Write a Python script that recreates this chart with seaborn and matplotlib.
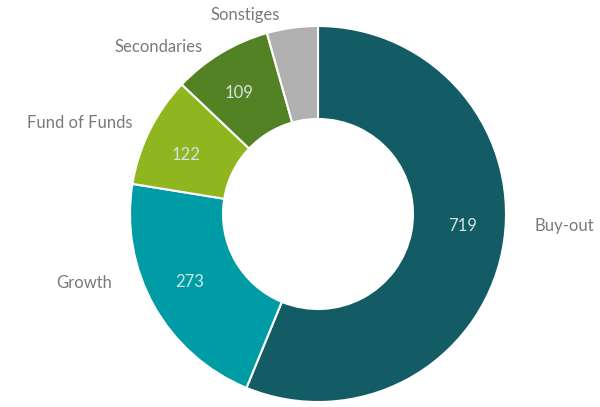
import matplotlib
matplotlib.use("Agg")
import matplotlib.pyplot as plt
import numpy as np
import seaborn as sns

# Fund categories and their counts (Sonstiges carries no value label)
categories = ["Buy-out", "Growth", "Fund of Funds", "Secondaries", "Sonstiges"]
values = [719, 273, 122, 109, 56]
value_labels = ["719", "273", "122", "109", ""]
colors = ["#135c66", "#009ca6", "#8fb51f", "#528224", "#b0b0b0"]

# label placement: angular nudge (deg, clockwise) and radial distance
name_nudge = [-8.0, 10.7, -0.3, -3.6, -2.9]
name_dist = [1.156, 1.156, 1.101, 1.081, 1.078]
value_nudge = [-6.5, 1.4, -2.4, -2.0, 0.0]
value_dist = 0.77

sns.set_theme(style="white")
plt.rcParams["font.family"] = ["Lato", "DejaVu Sans"]

W, H = 600, 407
cx, cy, R = 318, 214, 188  # ring centre and radius in pixels

fig = plt.figure(figsize=(W / 100, H / 100), dpi=100)
ax = fig.add_axes([0, 0, 1, 1])

wedges, _ = ax.pie(
    values,
    colors=colors,
    startangle=90,
    counterclock=False,
    radius=1.0,
    wedgeprops=dict(width=93 / R, edgecolor="white", linewidth=1.5),
)
ax.set_xlim(-cx / R, (W - cx) / R)
ax.set_ylim(-(H - cy) / R, cy / R)
ax.set_aspect("equal")
ax.axis("off")

for w, name, nd, dist, lab, vd in zip(wedges, categories, name_nudge, name_dist,
                                      value_labels, value_nudge):
    mid = (w.theta1 + w.theta2) / 2
    # category name outside the ring
    a = np.deg2rad(mid - nd)
    x, y = dist * np.cos(a), dist * np.sin(a)
    ax.text(x, y, name, ha="left" if x > 0 else "right", va="center",
            color="#7a7a7a", fontsize=12)
    # value inside the ring
    a = np.deg2rad(mid - vd)
    ax.text(value_dist * np.cos(a), value_dist * np.sin(a), lab,
            ha="center", va="center", color="#d4e4e4", fontsize=12)

fig.savefig("out.png", dpi=100)
